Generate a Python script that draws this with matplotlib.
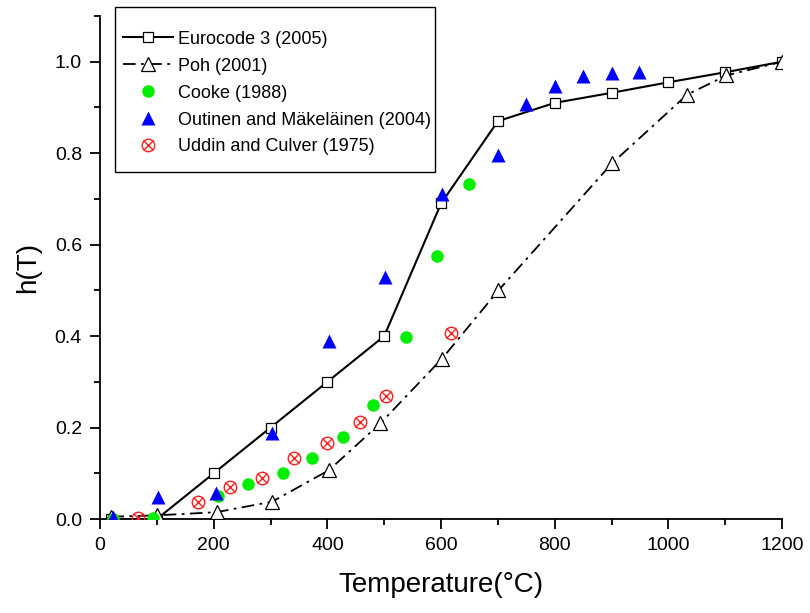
import numpy as np
import matplotlib.pyplot as plt
from matplotlib.ticker import MultipleLocator
from matplotlib.legend_handler import HandlerTuple
from matplotlib.patches import Rectangle

plt.rcParams['font.family'] = ['Liberation Sans', 'DejaVu Sans']

# Eurocode 3 (2005)
ec_T = [20, 100, 200, 300, 400, 500, 600, 700, 800, 900, 1000, 1100, 1200]
ec_h = [0.0, 0.0, 0.10, 0.20, 0.30, 0.40, 0.69, 0.87, 0.91, 0.932, 0.955, 0.977, 1.0]

# Poh (2001)
poh_T = [20, 100, 205, 303, 403, 493, 602, 701, 901, 1033, 1102, 1200]
poh_h = [0.005, 0.008, 0.015, 0.038, 0.107, 0.209, 0.351, 0.50, 0.778, 0.928, 0.970, 1.0]

# Cooke (1988)
cooke_T = [22, 93, 207, 261, 322, 373, 427, 481, 538, 593, 650]
cooke_h = [0.0, 0.002, 0.05, 0.077, 0.10, 0.134, 0.179, 0.25, 0.398, 0.575, 0.733]

# Outinen and Mäkeläinen (2004)
out_T = [23, 102, 204, 303, 403, 502, 602, 701, 750, 801, 850, 901, 949]
out_h = [0.005, 0.048, 0.057, 0.188, 0.39, 0.53, 0.71, 0.797, 0.908, 0.946, 0.969, 0.975, 0.977]

# Uddin and Culver (1975)
ud_T = [67, 173, 229, 285, 342, 400, 457, 503, 618]
ud_h = [0.003, 0.037, 0.07, 0.09, 0.134, 0.167, 0.212, 0.27, 0.406]

labels = ['Eurocode 3 (2005)', 'Poh (2001)', 'Cooke (1988)',
          'Outinen and Mäkeläinen (2004)', 'Uddin and Culver (1975)']

fig = plt.figure(figsize=(8.1, 6.13), dpi=100)
ax = fig.add_axes([0.1235, 0.1533, 0.842, 0.8206])

l1, = ax.plot(ec_T, ec_h, '-', color='black', lw=1.5, marker='s', ms=7,
              mfc='white', mec='black', mew=0.9, zorder=3)
l2, = ax.plot(poh_T, poh_h, color='black', lw=1.3, dashes=[7, 3, 1.5, 3], marker='^', ms=10,
              mfc='white', mec='black', mew=0.9, zorder=3)
l3, = ax.plot(cooke_T, cooke_h, 'o', color='#00ee00', ms=9, mec='none', zorder=4)
l4, = ax.plot(out_T, out_h, '^', color='#0000ff', ms=10, mec='none', zorder=4)
l5a, = ax.plot(ud_T, ud_h, 'o', ms=9, mfc='none', mec='#ff2020', mew=1.0, zorder=4)
l5b, = ax.plot(ud_T, ud_h, 'x', ms=6.5, color='#ff2020', mew=1.0, zorder=4)

ax.set_xlim(0, 1200)
ax.set_ylim(0, 1.1)
ax.xaxis.set_major_locator(MultipleLocator(200))
ax.xaxis.set_minor_locator(MultipleLocator(100))
ax.yaxis.set_minor_locator(MultipleLocator(0.1))
ax.set_yticks([0.0, 0.2, 0.4, 0.6, 0.8, 1.0])
ax.set_yticklabels(['0.0', '0.2', '0.4', '0.6', '0.8', '1.0'])

for s in ['top', 'right']:
    ax.spines[s].set_visible(False)
for s in ['left', 'bottom']:
    ax.spines[s].set_linewidth(1.3)

ax.tick_params(which='major', direction='out', length=7, width=1.3, labelsize=14, pad=6)
ax.tick_params(which='minor', direction='out', length=4, width=1.3)

ax.set_xlabel('Temperature(°C)', fontsize=20, labelpad=13)
ax.set_ylabel('h(T)', fontsize=20, labelpad=10)

# legend frame drawn separately (tighter on the right than on top/bottom)
box = Rectangle((115 / 810, 1 - 172 / 613), 320 / 810, 165 / 613,
                transform=fig.transFigure, facecolor='white', edgecolor='black',
                lw=1.0, zorder=4.9, clip_on=False)
ax.add_patch(box)

leg = ax.legend([l1, l2, l3, l4, (l5a, l5b)], labels,
                handler_map={tuple: HandlerTuple(ndivide=1, pad=0)},
                loc='upper left', bbox_to_anchor=(112 / 810, 1 - 5 / 613),
                bbox_transform=fig.transFigure, fontsize=13, frameon=False,
                handlelength=2.8, handletextpad=0.25, labelspacing=0.55,
                borderpad=0.6, borderaxespad=0,
                title=' ', title_fontsize=4)

fig.savefig('out.png', dpi=100)
